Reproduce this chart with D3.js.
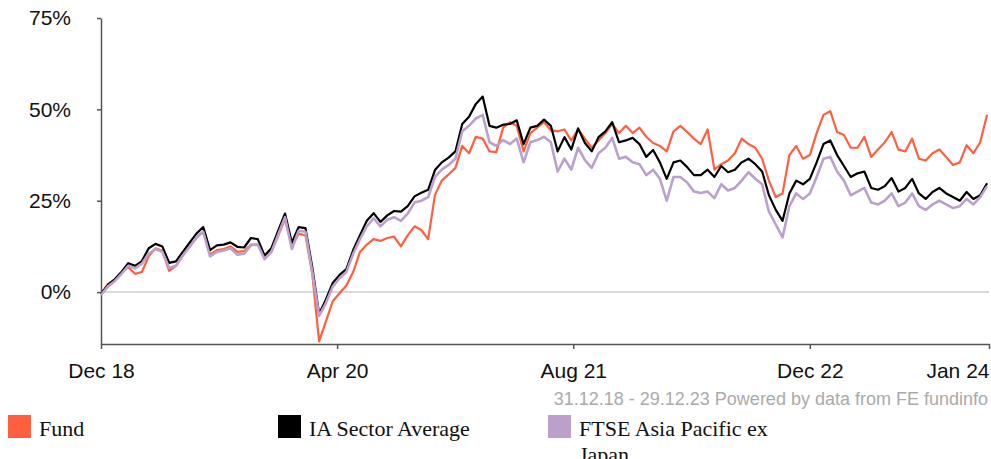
<!DOCTYPE html>
<html>
<head>
<meta charset="utf-8">
<script src="https://cdn.jsdelivr.net/npm/d3@7"></script>
<style>
    body { margin: 0; background: #fff; }
    svg { display: block; }
    .axis text { font-family: "Liberation Sans", Arial, sans-serif; font-size: 21px; fill: #111; }
    .axis path, .axis line { stroke: #555; stroke-width: 1.5; }
    .legend text { font-family: "Liberation Serif", Georgia, serif; font-size: 22px; fill: #111; }
    .source { font-family: "Liberation Sans", Arial, sans-serif; font-size: 18px; fill: #aaa; }
</style>
</head>
<body>
<div id="chart"></div>
<script>
// Data: one point every 14 days from 31.12.18
const startDate = "2018-12-31";
const endDate = "2023-12-29";
const stepDays = 14;

const fund = [
    -0.5, 2.2, 3.3, 5.3, 6.8, 5.0, 5.5, 9.8, 12.0, 11.3, 5.8, 7.2, 10.0, 12.5, 14.8, 16.5, 10.3,
    11.5, 11.8, 12.5, 11.0, 11.2, 13.0, 13.0, 9.5, 11.0, 15.5, 20.0, 12.5, 16.0, 15.5, 5.0,
    -13.5, -8.0, -2.5, -0.3, 1.8, 5.5, 11.0, 13.0, 14.5, 14.0, 14.8, 15.2, 12.5, 15.5, 18.0,
    17.0, 14.5, 26.6, 30.5, 32.2, 34.0, 40.0, 38.0, 42.5, 42.0, 38.5, 38.3, 45.0, 46.5, 45.5,
    38.5, 43.5, 45.0, 46.5, 44.3, 44.0, 44.5, 41.5, 44.5, 42.0, 39.5, 41.5, 43.5, 46.0, 43.5,
    45.5, 43.5, 45.0, 42.5, 40.8, 40.0, 38.5, 44.0, 45.5, 43.8, 42.0, 40.5, 44.5, 33.5, 35.0,
    36.0, 38.0, 42.0, 40.5, 39.5, 36.5, 30.5, 26.0, 27.0, 37.5, 40.0, 36.5, 37.5, 43.5, 48.5,
    49.5, 43.8, 43.0, 39.5, 39.5, 42.5, 37.0, 39.0, 41.0, 43.8, 39.0, 38.5, 42.0, 36.5, 36.0,
    38.0, 39.0, 37.0, 34.8, 35.5, 40.2, 38.0, 41.0, 48.5
];

const sectorAverage = [
    -0.5, 1.9, 3.5, 5.5, 7.9, 7.2, 8.5, 12.0, 13.2, 12.5, 8.0, 8.4, 11.0, 13.5, 16.0, 17.8, 11.5,
    12.8, 13.0, 13.6, 12.4, 12.2, 14.8, 14.5, 10.0, 12.0, 16.8, 21.5, 13.5, 17.8, 17.5, 6.8,
    -6.0, -2.0, 2.5, 4.7, 6.3, 11.5, 15.6, 19.5, 21.6, 19.2, 21.0, 22.2, 22.0, 23.5, 26.2,
    27.2, 28.0, 33.4, 35.5, 36.8, 38.5, 46.0, 48.0, 51.5, 53.5, 45.5, 45.0, 45.8, 46.0, 47.0,
    40.5, 45.0, 45.5, 47.2, 45.5, 38.5, 42.4, 39.0, 44.8, 40.8, 38.5, 42.4, 44.0, 46.5, 41.0,
    41.5, 42.2, 40.5, 37.0, 38.9, 35.5, 31.0, 35.5, 36.0, 34.2, 32.0, 32.0, 33.5, 31.5, 34.5,
    32.8, 33.5, 35.5, 36.5, 35.0, 33.0, 26.5, 22.5, 19.5, 27.0, 30.5, 29.5, 31.0, 35.5, 40.5,
    41.5, 37.5, 34.5, 31.5, 32.5, 33.0, 28.5, 28.0, 29.0, 31.2, 27.5, 28.5, 31.0, 27.0, 25.5,
    27.4, 28.5, 27.0, 26.0, 25.0, 27.4, 25.5, 26.5, 29.8
];

const ftseAsiaPacExJapan = [
    -0.8, 1.5, 3.0, 5.0, 7.2, 6.5, 7.8, 10.5, 11.8, 11.0, 6.6, 7.2, 10.0, 12.4, 15.0, 16.5, 9.8,
    11.0, 11.4, 12.0, 10.2, 10.5, 12.8, 13.0, 9.0, 11.0, 15.8, 20.5, 11.8, 16.8, 16.5, 5.5,
    -6.5, -3.0, 1.5, 3.8, 5.5, 10.5, 14.5, 18.0, 20.2, 18.0, 19.8, 20.5, 19.5, 21.5, 24.5,
    25.0, 26.0, 31.5, 33.5, 34.8, 36.5, 44.0, 45.5, 47.5, 48.5, 41.0, 40.0, 41.6, 40.5, 42.0,
    35.5, 41.0, 41.6, 42.5, 41.0, 33.0, 36.5, 33.5, 39.5, 36.1, 34.0, 38.0, 39.5, 42.2, 36.5,
    37.0, 35.5, 35.0, 32.0, 33.5, 31.0, 25.0, 31.5, 31.5, 30.0, 27.5, 27.1, 27.5, 25.7, 29.5,
    27.8, 28.5, 30.5, 32.8, 31.0, 29.5, 22.0, 18.5, 15.0, 23.5, 27.0, 25.5, 27.0, 31.5, 36.5,
    37.0, 33.0, 30.5, 26.5, 27.5, 28.5, 24.5, 24.0, 25.0, 27.0, 23.5, 24.5, 27.0, 23.5, 22.5,
    24.0, 25.0, 24.0, 23.0, 23.5, 25.5, 24.0, 26.0, 29.0
];

const yTicks = [0, 25, 50, 75];
const xTickDates = ["2018-12-31", "2020-04-29", "2021-08-27", "2022-12-26", "2023-12-29"];
const xTickLabels = ["Dec 18", "Apr 20", "Aug 21", "Dec 22", "Jan 24"];

const legendNames = ["Fund", "IA Sector Average", "FTSE Asia Pacific ex Japan"];
const colors = ["#ff5f3f", "#000000", "#bba0cc"];

const width = 991, height = 459;
const margin = { left: 101, right: 2, top: 18, bottom: 115 };

const parse = d3.timeParse("%Y-%m-%d");
const start = parse(startDate);
const dates = fund.map((_, i) => d3.timeDay.offset(start, i * stepDays));

const svg = d3.select("#chart").append("svg")
    .attr("width", width)
    .attr("height", height);

const x = d3.scaleTime()
    .domain([start, parse(endDate)])
    .range([margin.left, width - margin.right]);

const y = d3.scaleLinear()
    .domain([-14.2, 75])
    .range([height - margin.bottom, margin.top]);

// zero line
svg.append("line")
    .attr("x1", x.range()[0]).attr("x2", x.range()[1])
    .attr("y1", y(0)).attr("y2", y(0))
    .attr("stroke", "#cccccc")
    .attr("stroke-width", 1.5);

// Axes
const xAxis = svg.append("g")
    .attr("class", "axis")
    .attr("transform", `translate(0,${y.range()[0]})`)
    .call(d3.axisBottom(x)
        .tickValues(xTickDates.map(parse))
        .tickFormat((d, i) => xTickLabels[i])
        .tickSize(5)
        .tickSizeOuter(0)
        .tickPadding(14));

// last label sits flush with the right edge
xAxis.selectAll(".tick:last-of-type text")
    .attr("text-anchor", "end");

svg.append("g")
    .attr("class", "axis")
    .attr("transform", `translate(${margin.left},0)`)
    .call(d3.axisLeft(y)
        .tickValues(yTicks)
        .tickFormat(d => d + "%")
        .tickSize(4)
        .tickSizeOuter(0)
        .tickPadding(26));

// Lines: fund underneath, then sector, then index
const line = d3.line()
    .x((d, i) => x(dates[i]))
    .y(d => y(d));

const series = [fund, sectorAverage, ftseAsiaPacExJapan];
const widths = [2.2, 2.2, 2.6];
[0, 1, 2].forEach(k => {
    svg.append("path")
        .datum(series[k])
        .attr("d", line)
        .attr("fill", "none")
        .attr("stroke", colors[k])
        .attr("stroke-width", widths[k])
        .attr("stroke-linejoin", "round");
});

// Source note
svg.append("text")
    .attr("class", "source")
    .attr("x", 988)
    .attr("y", 405)
    .attr("text-anchor", "end")
    .text("31.12.18 - 29.12.23 Powered by data from FE fundinfo");

// Legend
const legendX = [8, 278, 548];
const legend = svg.append("g").attr("class", "legend");
legendNames.forEach((name, i) => {
    legend.append("rect")
        .attr("x", legendX[i])
        .attr("y", 415)
        .attr("width", 23)
        .attr("height", 23)
        .attr("fill", colors[i]);
    const t = legend.append("text")
        .attr("x", legendX[i] + 31)
        .attr("y", 436);
    // the long name wraps onto a second line, partly below the frame as in the original
    const words = i === 2 ? ["FTSE Asia Pacific ex", "Japan"] : [name];
    words.forEach((w, j) => {
        t.append("tspan")
            .attr("x", legendX[i] + 31)
            .attr("dy", j === 0 ? 0 : 26)
            .text(w);
    });
});
</script>
</body>
</html>
